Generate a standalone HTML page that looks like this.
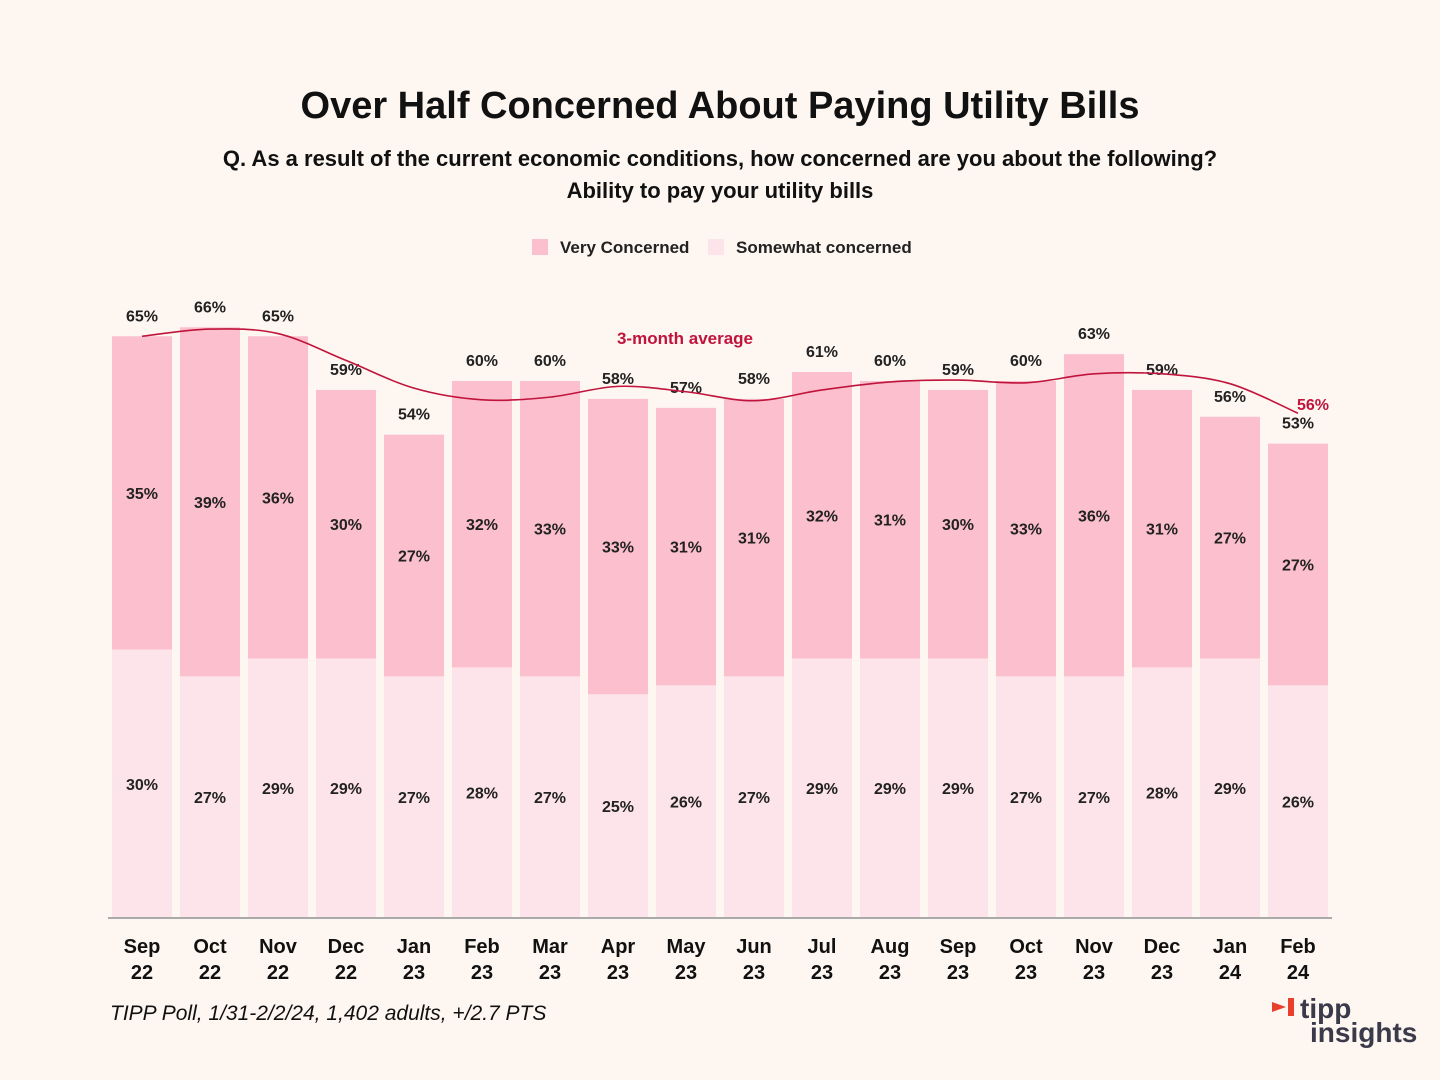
<!DOCTYPE html>
<html><head><meta charset="utf-8"><style>
body{margin:0;background:#fdf6f1;font-family:"Liberation Sans",sans-serif}
svg{display:block}
</style></head><body>
<svg id="c" width="1440" height="1080">
<rect width="1440" height="1080" fill="#fdf6f1"/>
<text x="720" y="118" text-anchor="middle" font-size="38" font-weight="bold" fill="#111">Over Half Concerned About Paying Utility Bills</text>
<text x="720" y="166" text-anchor="middle" font-size="22" font-weight="bold" fill="#111">Q. As a result of the current economic conditions, how concerned are you about the following?</text>
<text x="720" y="198" text-anchor="middle" font-size="22" font-weight="bold" fill="#111">Ability to pay your utility bills</text>
<g>
<rect x="532" y="239" width="16" height="16" fill="#fbbfcd"/>
<text x="560" y="253" font-size="17" font-weight="bold" fill="#222">Very Concerned</text>
<rect x="708" y="239" width="16" height="16" fill="#fce4ea"/>
<text x="736" y="253" font-size="17" font-weight="bold" fill="#222">Somewhat concerned</text>
</g>
<g id="bars"></g>
<line x1="108" y1="918" x2="1332" y2="918" stroke="#aaa" stroke-width="2"/>
<text x="685" y="344" text-anchor="middle" font-size="17" font-weight="bold" fill="#c0143c">3-month average</text>
<text x="110" y="1020" font-size="21" font-style="italic" fill="#111">TIPP Poll, 1/31-2/2/24, 1,402 adults, +/2.7 PTS</text>
<g>
<path d="M1272 1002 l14 5 -14 5z" fill="#e8402c"/>
<rect x="1288" y="998" width="6" height="18" fill="#e8402c"/>
<text x="1300" y="1018" font-size="28" font-weight="bold" fill="#3a3a4a">tipp</text>
<text x="1310" y="1042" font-size="28" font-weight="bold" fill="#3a3a4a">insights</text>
</g>
</svg>
<script>
const months=["Sep|22","Oct|22","Nov|22","Dec|22","Jan|23","Feb|23","Mar|23","Apr|23","May|23","Jun|23","Jul|23","Aug|23","Sep|23","Oct|23","Nov|23","Dec|23","Jan|24","Feb|24"];
const somewhat=[30,27,29,29,27,28,27,25,26,27,29,29,29,27,27,28,29,26];
const very=[35,39,36,30,27,32,33,33,31,31,32,31,30,33,36,31,27,27];
const totals=[65,66,65,59,54,60,60,58,57,58,61,60,59,60,63,59,56,53];
const avg=[65,65.8,65.3,62.3,59.2,57.9,58.2,59.4,58.8,57.8,59,59.9,60.1,59.8,60.8,60.8,59.7,56.4];
const ns="http://www.w3.org/2000/svg";
const g=document.getElementById('bars');
const base=918,k=8.95,x0=112,pitch=68,bw=60;
const X=i=>x0+i*pitch, Y=v=>base-v*k;
function mk(t,a,p){const e=document.createElementNS(ns,t);for(const q in a)e.setAttribute(q,a[q]);(p||g).appendChild(e);return e;}
months.forEach((m,i)=>{
 const s=somewhat[i],v=very[i],tot=s+v;
 const r1=mk('rect',{x:X(i),y:Y(s),width:bw,height:s*k,fill:'#fce4ea'});
 
 
 const r2=mk('rect',{x:X(i),y:Y(tot),width:bw,height:v*k,fill:'#fbbfcd'});
 
 
 const t1=mk('text',{x:X(i)+bw/2,y:Y(s/2)+6,'text-anchor':'middle','font-size':16,'font-weight':'bold',fill:'#222'});t1.textContent=s+'%';
 
 
 const t2=mk('text',{x:X(i)+bw/2,y:Y(s+v/2)+6,'text-anchor':'middle','font-size':16,'font-weight':'bold',fill:'#222'});t2.textContent=v+'%';
 
 
 const t3=mk('text',{x:X(i)+bw/2,y:Y(totals[i])-15,'text-anchor':'middle','font-size':16,'font-weight':'bold',fill:'#222'});t3.textContent=totals[i]+'%';
 
 
 const [a,b]=m.split('|');
 const l1=mk('text',{x:X(i)+bw/2,y:953,'text-anchor':'middle','font-size':20,'font-weight':'bold',fill:'#111'});l1.textContent=a;
 
 
 const l2=mk('text',{x:X(i)+bw/2,y:979,'text-anchor':'middle','font-size':20,'font-weight':'bold',fill:'#111'});l2.textContent=b;
 
 
});
const pts=avg.map((v,i)=>[X(i)+bw/2,Y(v)]);
let d='M'+pts[0][0]+' '+pts[0][1];
for(let i=0;i<pts.length-1;i++){const p0=pts[i-1]||pts[i],p1=pts[i],p2=pts[i+1],p3=pts[i+2]||p2;
 d+=` C${p1[0]+(p2[0]-p0[0])/6} ${p1[1]+(p2[1]-p0[1])/6} ${p2[0]-(p3[0]-p1[0])/6} ${p2[1]-(p3[1]-p1[1])/6} ${p2[0]} ${p2[1]}`;}
const ln=mk('path',{d:d,fill:'none',stroke:'#c0143c','stroke-width':1.6});


const last=pts[pts.length-1];
const al=mk('text',{x:last[0]+15,y:last[1]-3,'text-anchor':'middle','font-size':16,'font-weight':'bold',fill:'#c0143c'});al.textContent=Math.round(avg[avg.length-1])+'%';


</script>
</body></html>
